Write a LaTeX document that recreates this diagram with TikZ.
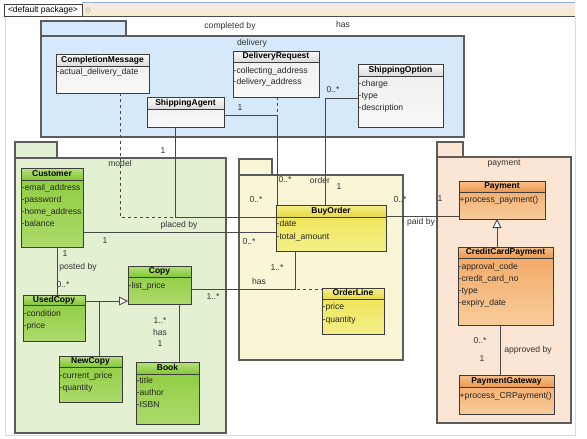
\documentclass[tikz,border=0pt]{standalone}
\usepackage{fontspec}
\setmainfont{Liberation Sans}
\usetikzlibrary{arrows.meta}
\definecolor{pkgblue}{HTML}{D6E9FA}
\definecolor{pkggreen}{HTML}{E3F1D2}
\definecolor{pkgyellow}{HTML}{F8F6D6}
\definecolor{pkgorange}{HTML}{FBE5D4}
\definecolor{edgecol}{HTML}{484848}
\definecolor{pkgedge}{HTML}{5C5C5C}
\definecolor{clsedge}{HTML}{3C3C3C}
\definecolor{lblcol}{HTML}{333333}
\definecolor{framecol}{HTML}{DADADA}
\definecolor{barblue}{HTML}{96ACDC}
\definecolor{bartop}{HTML}{F6EAE6}
\definecolor{barbot}{HTML}{F3ECCC}
\definecolor{gbodyA}{HTML}{8CCC3C}
\definecolor{gbodyB}{HTML}{ACDA6C}
\definecolor{gheadA}{HTML}{B6E27C}
\definecolor{gheadB}{HTML}{84C636}
\definecolor{ybodyA}{HTML}{EDE44C}
\definecolor{ybodyB}{HTML}{F4EE88}
\definecolor{yheadA}{HTML}{F6EE8C}
\definecolor{yheadB}{HTML}{E6D840}
\definecolor{obodyA}{HTML}{F2A660}
\definecolor{obodyB}{HTML}{F8CC9C}
\definecolor{oheadA}{HTML}{F8C28C}
\definecolor{oheadB}{HTML}{EC984C}
\newcommand\umlclass[8]{%
  \node[clsbox, body#2, minimum width={(#5-#3)*1pt}, minimum height={(#6-#4)*1pt}] (#1) at ({(#3+#5)/2},{(#4+#6)/2}) {};
  \shade[head#2] (#3,#4) rectangle (#5,#7);
  \draw[clsline] (#3,#7) -- (#5,#7);
  \draw[clsline] (#1.north west) rectangle (#1.south east);
  \node[ctitle] (#1-t) at ({(#3+#5)/2},{(#4+#7)/2}) {#8};
}
\newcommand\attr[4]{\node[attrtext] (#1) at (#2,#3) {#4};}
\begin{document}
\begin{tikzpicture}[x=1pt,y=-1pt,
  clsbox/.style={inner sep=0pt, outer sep=0pt},
  clsline/.style={draw=clsedge, line width=0.9pt},
  bodygray/.style={top color=gray!14, bottom color=gray!5},
  headgray/.style={top color=gray!4, bottom color=gray!28},
  bodygreen/.style={top color=gbodyA, bottom color=gbodyB},
  headgreen/.style={top color=gheadA, bottom color=gheadB},
  bodyyellow/.style={top color=ybodyA, bottom color=ybodyB},
  headyellow/.style={top color=yheadA, bottom color=yheadB},
  bodyorange/.style={top color=obodyA, bottom color=obodyB},
  headorange/.style={top color=oheadA, bottom color=oheadB},
  ctitle/.style={font=\fontsize{8.5}{10}\selectfont\bfseries, text height=6pt, text depth=1.8pt, inner sep=0pt},
  attrtext/.style={font=\fontsize{8.6}{10}\selectfont, text=black!85, anchor=west, text height=6pt, text depth=1.8pt, inner xsep=0.5pt, inner ysep=0pt},
  lbl/.style={font=\fontsize{8.6}{10}\selectfont, text=lblcol, text height=6pt, text depth=1.8pt, inner sep=0pt},
  pkg/.style={draw=pkgedge, line width=1.2pt},
  assoc/.style={draw=edgecol, line width=0.9pt},
  assocdash/.style={draw=edgecol, line width=0.9pt, dash pattern=on 3pt off 3pt},
  gentip/.style={-{Triangle[open, width=9pt, length=9pt, fill=white]}}
]
\useasboundingbox (0,0) rectangle (587,439);
\fill[white] (0,0) rectangle (587,439);
% frame and header bar
\draw[framecol, line width=0.8pt] (5,17) -- (5,435) -- (575,435) -- (575,17);
\shade[top color=bartop, bottom color=barbot] (82,3) rectangle (575,16);
\draw[barblue, line width=0.8pt] (82,2.5) -- (575,2.5);
\draw[black!70, line width=1.1pt] (82,16.5) -- (575,16.5);
\node[draw=black!75, fill=white, line width=0.8pt, minimum width=78pt, minimum height=12pt, inner sep=0pt, font=\fontsize{8.5}{10}\selectfont] (defpkg) at (43,10) {<default package>};
\draw[black!30, line width=0.6pt] (88,7.5) -- (90.5,10) -- (88,12.5) -- (85.5,10) -- cycle;
% packages
\filldraw[pkg, fill=pkgblue] (41,21) rectangle (126,36);
\filldraw[pkg, fill=pkgblue] (41,36) rectangle (464,137);
\filldraw[pkg, fill=pkggreen] (15,142) rectangle (57,158);
\filldraw[pkg, fill=pkggreen] (15,158) rectangle (226,433);
\filldraw[pkg, fill=pkgyellow] (239,159) rectangle (272,175);
\filldraw[pkg, fill=pkgyellow] (239,175) rectangle (403,360);
\filldraw[pkg, fill=pkgorange] (437,142) rectangle (463,157);
\filldraw[pkg, fill=pkgorange] (437,157) rectangle (571,423);
\node[lbl] (delivery-l) at (252,43) {delivery};
\node[lbl] (model-l) at (120,164) {model};
\node[lbl] (order-l) at (320,181) {order};
\node[lbl] (payment-l) at (504,163) {payment};
% classes
\umlclass{complmsg}{gray}{56}{54}{149}{93}{66}{CompletionMessage}
\attr{complmsg-a1}{56}{72}{-actual\_delivery\_date}
\umlclass{delivreq}{gray}{233}{51}{319}{97}{62}{DeliveryRequest}
\attr{delivreq-a1}{233}{71}{-collecting\_address}
\attr{delivreq-a2}{233}{82}{-delivery\_address}
\umlclass{shipagent}{gray}{147}{97}{224}{127}{109}{ShippingAgent}
\umlclass{shipopt}{gray}{358}{64}{443}{127}{76}{ShippingOption}
\attr{shipopt-a1}{358}{84}{-charge}
\attr{shipopt-a2}{358}{96}{-type}
\attr{shipopt-a3}{358}{108}{-description}
\umlclass{customer}{green}{21}{168}{83}{247}{180}{Customer}
\attr{customer-a1}{21}{188}{-email\_address}
\attr{customer-a2}{21}{200}{-password}
\attr{customer-a3}{21}{212}{-home\_address}
\attr{customer-a4}{21}{224}{-balance}
\umlclass{usedcopy}{green}{23}{295}{85}{341}{305}{UsedCopy}
\attr{usedcopy-a1}{23}{314}{-condition}
\attr{usedcopy-a2}{23}{326}{-price}
\umlclass{copy}{green}{128}{266}{191}{304}{277}{Copy}
\attr{copy-a1}{128}{286}{-list\_price}
\umlclass{newcopy}{green}{59}{356}{122}{402}{367}{NewCopy}
\attr{newcopy-a1}{59}{376}{-current\_price}
\attr{newcopy-a2}{59}{388}{-quantity}
\umlclass{book}{green}{136}{362}{199}{424}{374}{Book}
\attr{book-a1}{136}{381}{-title}
\attr{book-a2}{136}{393}{-author}
\attr{book-a3}{136}{405}{-ISBN}
\umlclass{buyorder}{yellow}{276}{205}{386}{251}{217}{BuyOrder}
\attr{buyorder-a1}{276}{224}{-date}
\attr{buyorder-a2}{276}{237}{-total\_amount}
\umlclass{orderline}{yellow}{322}{288}{384}{334}{299}{OrderLine}
\attr{orderline-a1}{322}{307}{-price}
\attr{orderline-a2}{322}{320}{-quantity}
\umlclass{payment}{orange}{459}{181}{545}{219}{192}{Payment}
\attr{payment-a1}{459}{200}{+process\_payment()}
\umlclass{ccp}{orange}{458}{247}{553}{325}{258}{CreditCardPayment}
\attr{ccp-a1}{458}{267}{-approval\_code}
\attr{ccp-a2}{458}{279}{-credit\_card\_no}
\attr{ccp-a3}{458}{291}{-type}
\attr{ccp-a4}{458}{303}{-expiry\_date}
\umlclass{paygw}{orange}{459}{375}{554}{414}{387}{PaymentGateway}
\attr{paygw-a1}{459}{396}{+process\_CRPayment()}
% connector coordinates
\coordinate (sa1) at (277,115);
\coordinate (sa2) at (175,217);
\coordinate (cm) at (120,217);
\coordinate (so) at (325,98);
\coordinate (pb) at (0,232);
\coordinate (pd) at (0,216);
\coordinate (cu) at (57,0);
\coordinate (gen) at (0,301);
\coordinate (nc) at (99,0);
\coordinate (cb) at (179,0);
\coordinate (co) at (295,289);
\coordinate (cp) at (497,0);
\coordinate (pg) at (500,0);
% connectors
\draw[assoc] (shipagent.east |- sa1) -| (sa1 |- buyorder.north);
\draw[assocdash] (delivreq.south -| sa1) -- (sa1);
\draw[assoc] (shipagent.south -| sa2) |- (buyorder.west |- sa2);
\draw[assocdash] (complmsg.south -| cm) |- (sa2);
\draw[assoc] (shipopt.west |- so) -| (so |- buyorder.north);
\draw[assoc] (customer.east |- pb) -- (buyorder.west |- pb);
\draw[assoc] (buyorder.east |- pd) -- (payment.west |- pd);
\draw[assoc] (customer.south -| cu) -- (usedcopy.north -| cu);
\draw[assoc, gentip] (usedcopy.east |- gen) -- (copy.west |- gen);
\draw[assoc] (newcopy.north -| nc) -- (nc |- gen);
\draw[assoc] (copy.south -| cb) -- (book.north -| cb);
\draw[assoc] (copy.east |- co) -| (co |- buyorder.south);
\draw[assocdash] (co) ++(2,0) -- (orderline.west |- co);
\draw[assoc, gentip] (ccp.north -| cp) -- (payment.south -| cp);
\draw[assoc] (ccp.south -| pg) -- (paygw.north -| pg);
% connector labels
\node[lbl] (l-completed) at (230,26) {completed by};
\node[lbl] (l-has1) at (343,25) {has};
\node[lbl] (l-sa1) at (240,108) {1};
\node[lbl] (l-so1) at (333,90) {0..*};
\node[lbl] (l-sa2) at (163,151) {1};
\node[lbl] (l-bo1) at (285,180) {0..*};
\node[lbl] (l-bo2) at (339,187) {1};
\node[lbl] (l-bo3) at (256,200) {0..*};
\node[lbl] (l-bo4) at (400,200) {0..*};
\node[lbl] (l-pay1) at (440,199) {1};
\node[lbl] (l-paid) at (421,222) {paid by};
\node[lbl] (l-placed) at (179,225) {placed by};
\node[lbl] (l-cust1) at (105,241) {1};
\node[lbl] (l-bo5) at (249,242) {0..*};
\node[lbl] (l-cust2) at (65,254) {1};
\node[lbl] (l-posted) at (78,267) {posted by};
\node[lbl] (l-bo6) at (277,268) {1..*};
\node[lbl] (l-uc1) at (63,285) {0..*};
\node[lbl] (l-has2) at (259,282) {has};
\node[lbl] (l-copy1) at (213,297) {1..*};
\node[lbl] (l-copy2) at (160,321) {1..*};
\node[lbl] (l-has3) at (160,333) {has};
\node[lbl] (l-book1) at (160,344) {1};
\node[lbl] (l-ccp1) at (480,341) {0..*};
\node[lbl] (l-approved) at (528,350) {approved by};
\node[lbl] (l-pg1) at (482,359) {1};
\end{tikzpicture}
\end{document}
